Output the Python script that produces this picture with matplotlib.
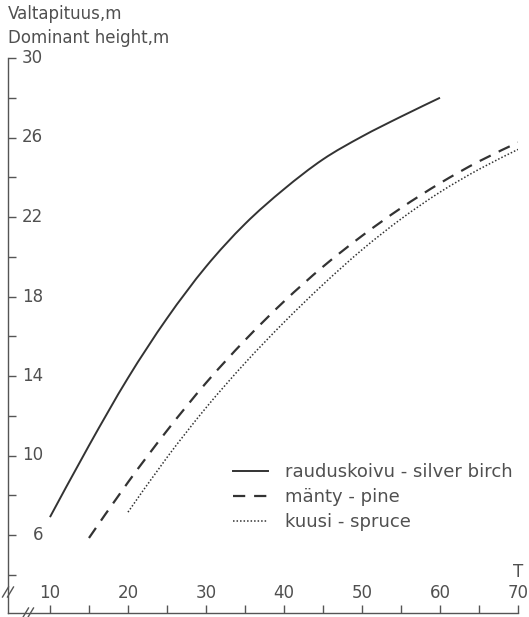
import matplotlib
matplotlib.use("Agg")
import matplotlib.pyplot as plt
from matplotlib.lines import Line2D
from matplotlib.path import Path
from matplotlib.patches import PathPatch

# Stand age T (years) and dominant height (m) per tree species
age_birch = [10, 15, 20, 25, 30, 35, 40, 45, 50, 55, 60]
height_birch = [6.9, 10.5, 13.9, 16.9, 19.5, 21.65, 23.4, 24.9, 26.05, 27.05, 28.0]

age_pine = [15, 20, 25, 30, 35, 40, 45, 50, 55, 60, 65, 70]
height_pine = [5.85, 8.65, 11.25, 13.65, 15.8, 17.75, 19.5, 21.05, 22.45, 23.7, 24.8, 25.75]

age_spruce = [20, 25, 30, 35, 40, 45, 50, 55, 60, 65, 70]
height_spruce = [7.15, 9.9, 12.4, 14.65, 16.7, 18.6, 20.35, 21.9, 23.25, 24.4, 25.4]

labels = ["rauduskoivu - silver birch", "mänty - pine", "kuusi - spruce"]
x_ticklabels = [10, 20, 30, 40, 50, 60, 70]
y_ticklabels = [6, 10, 14, 18, 22, 26, 30]
y_title = ["Valtapituus,m", "Dominant height,m"]
x_title = "T"

W, H = 529, 617
ink = "#333333"
txt = "#505050"
fs = 12
plt.rcParams["font.family"] = ["DejaVu Sans"]

fig = plt.figure(figsize=(W / 100, H / 100), dpi=100)
left, right, bottom, top = 8, 518, 612.5, 58
ax = fig.add_axes([left / W, (H - bottom) / H, (right - left) / W, (bottom - top) / H])

ax.set_xlim(4.62, 70)
ax.set_ylim(30 - (bottom - top) / 19.875, 30)


def smooth_curve(xs, ys):
    """Catmull-Rom curve through the given points, as cubic Bezier segments."""
    pts = list(zip(xs, ys))
    ext = [pts[0]] + pts + [pts[-1]]
    verts = [pts[0]]
    codes = [Path.MOVETO]
    for i in range(1, len(ext) - 2):
        p0, p1, p2, p3 = ext[i - 1], ext[i], ext[i + 1], ext[i + 2]
        c1 = (p1[0] + (p2[0] - p0[0]) / 6, p1[1] + (p2[1] - p0[1]) / 6)
        c2 = (p2[0] - (p3[0] - p1[0]) / 6, p2[1] - (p3[1] - p1[1]) / 6)
        verts += [c1, c2, p2]
        codes += [Path.CURVE4] * 3
    return Path(verts, codes)


styles = [
    dict(lw=1.4, linestyle="-"),
    dict(lw=1.6, linestyle=(0, (5.5, 4.0))),
    dict(lw=1.1, linestyle=(0, (1.0, 1.3))),
]
series = [(age_birch, height_birch), (age_pine, height_pine), (age_spruce, height_spruce)]
for (xs, ys), st in zip(series, styles):
    ax.add_patch(PathPatch(smooth_curve(xs, ys), fill=False, edgecolor=ink,
                           capstyle="butt", **st))

for s in ["top", "right"]:
    ax.spines[s].set_visible(False)
for s in ["left", "bottom"]:
    ax.spines[s].set_color("#555555")
    ax.spines[s].set_linewidth(1.0)

ax.set_xticks(x_ticklabels)
ax.set_xticks(range(15, 70, 10), minor=True)
ax.set_yticks(y_ticklabels)
ax.set_yticks(range(4, 30, 4), minor=True)
ax.tick_params(which="both", direction="in", length=5.5, width=1.0, color="#555555",
               labelbottom=False, labelleft=False)

# Tick labels sit inside the axes
tx = ax.get_xaxis_transform()
for v in x_ticklabels:
    ax.text(v, 0.035, str(v), transform=tx, ha="center", va="center",
            fontsize=fs, color=txt)
ty = ax.get_yaxis_transform()
for v in y_ticklabels:
    ax.text(0.069, v, str(v), transform=ty, ha="right", va="center",
            fontsize=fs, color=txt)

ax.text(513 / W, (H - 572) / H, x_title, transform=fig.transFigure, ha="left",
        va="center", fontsize=fs, color=txt)
fig.text(8 / W, (H - 14) / H, y_title[0], ha="left", va="center", fontsize=fs, color=txt)
fig.text(8 / W, (H - 38) / H, y_title[1], ha="left", va="center", fontsize=fs, color=txt)

# Axis break marks
def brk(xc, yc):
    for dx in (-2.5, 2.5):
        fig.add_artist(Line2D([(xc + dx - 3) / W, (xc + dx + 3) / W],
                              [(H - yc - 5) / H, (H - yc + 5) / H],
                              color="#555555", lw=1.0))
brk(8, 592)
brk(28, 613)

handles = [Line2D([], [], color=ink, **st) for st in styles]
fig.legend(handles, labels, loc="upper left", bbox_to_anchor=(233 / W, (H - 463) / H),
           frameon=False, fontsize=13, handlelength=1.95, handletextpad=0.95,
           labelspacing=0.4, labelcolor=txt, borderaxespad=0, borderpad=0)

fig.savefig("out.png", dpi=100, facecolor="white")
